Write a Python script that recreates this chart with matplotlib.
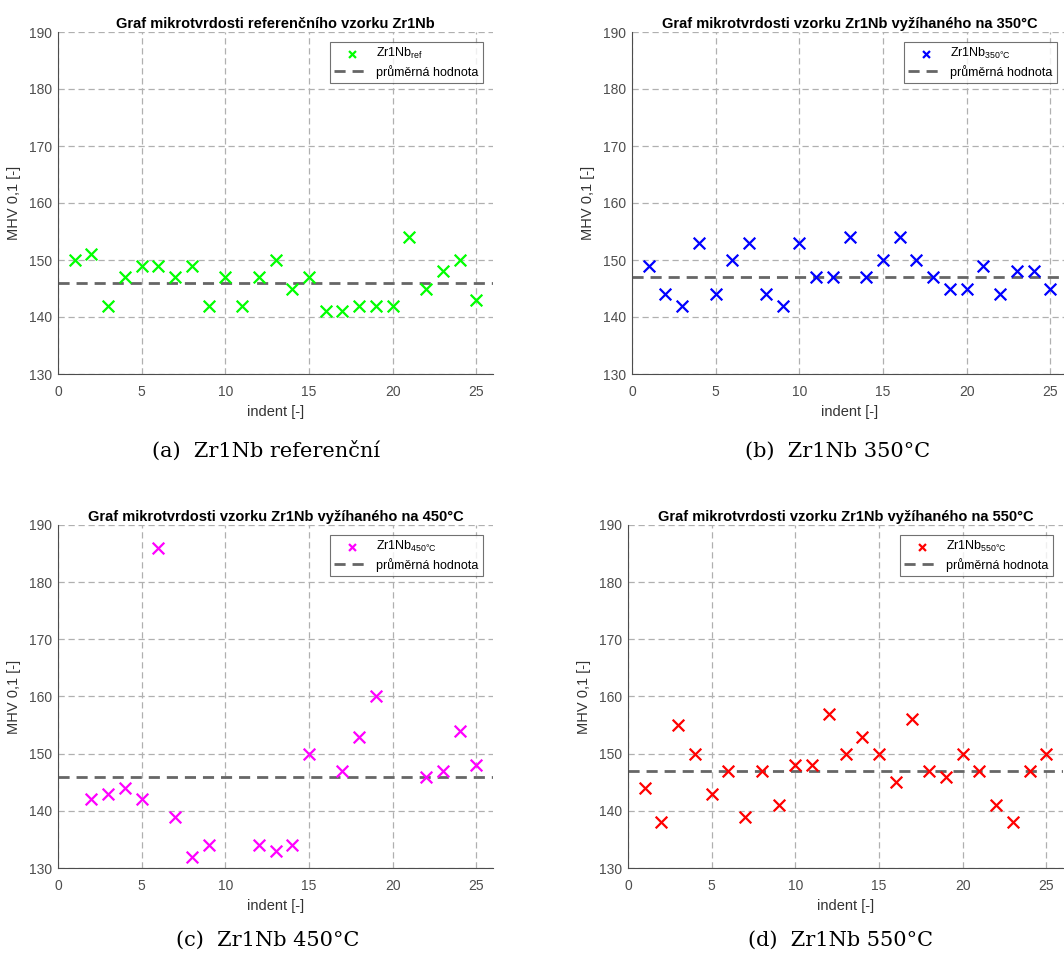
import numpy as np
import matplotlib.pyplot as plt

# indent numbers
indent = np.arange(1, 26)

# MHV 0,1 values (NaN = no point shown)
mhv_ref = [150, 151, 142, 147, 149, 149, 147, 149, 142, 147, 142, 147, 150,
           145, 147, 141, 141, 142, 142, 142, 154, 145, 148, 150, 143]
mhv_350 = [149, 144, 142, 153, 144, 150, 153, 144, 142, 153, 147, 147, 154,
           147, 150, 154, 150, 147, 145, 145, 149, 144, 148, 148, 145]
mhv_450 = [np.nan, 142, 143, 144, 142, 186, 139, 132, 134, np.nan, np.nan, 134, 133,
           134, 150, np.nan, 147, 153, 160, np.nan, np.nan, 146, 147, 154, 148]
mhv_550 = [144, 138, 155, 150, 143, 147, 139, 147, 141, 148, 148, 157, 150,
           153, 150, 145, 156, 147, 146, 150, 147, 141, 138, 147, 150]

means = [146, 147, 146, 147]
titles = ['Graf mikrotvrdosti referenčního vzorku Zr1Nb',
          'Graf mikrotvrdosti vzorku Zr1Nb vyžíhaného na 350°C',
          'Graf mikrotvrdosti vzorku Zr1Nb vyžíhaného na 450°C',
          'Graf mikrotvrdosti vzorku Zr1Nb vyžíhaného na 550°C']
labels = [r'Zr1Nb$_{\mathregular{ref}}$', r'Zr1Nb$_{\mathregular{350°C}}$',
          r'Zr1Nb$_{\mathregular{450°C}}$', r'Zr1Nb$_{\mathregular{550°C}}$']
captions = ['(a)  Zr1Nb referenční', '(b)  Zr1Nb 350°C',
            '(c)  Zr1Nb 450°C', '(d)  Zr1Nb 550°C']
colors = ['#00ff00', '#0000ff', '#ff00ff', '#ff0000']
series = [mhv_ref, mhv_350, mhv_450, mhv_550]

plt.rcParams['font.family'] = ['Liberation Sans', 'DejaVu Sans']

fig = plt.figure(figsize=(10.64, 9.58), dpi=100)

W, H = 1064, 958
# axes boxes in pixels: left, top, right, bottom
boxes = [(58, 32, 493, 374), (632, 32, 1067, 374),
         (58, 525, 493, 868), (628, 525, 1063, 868)]
cap_pos = [(266, 451), (838, 451), (268, 940), (840, 940)]

for i in range(4):
    l, t, r, b = boxes[i]
    ax = fig.add_axes([l / W, 1 - b / H, (r - l) / W, (b - t) / H])
    ax.scatter(indent, series[i], marker='x', s=70, linewidths=1.6,
               color=colors[i], label=labels[i], zorder=3)
    ax.axhline(means[i], color='#666666', ls=(0, (4, 2.5)), lw=2,
               label='průměrná hodnota', zorder=2)
    ax.set_xlim(0, 26)
    ax.set_ylim(130, 190)
    ax.set_xticks([0, 5, 10, 15, 20, 25])
    ax.set_yticks(range(130, 191, 10))
    ax.grid(True, ls=(0, (5, 3)), color='#b0b0b0', lw=0.9)
    ax.set_axisbelow(True)
    for s in ['top', 'right']:
        ax.spines[s].set_visible(False)
    for s in ['left', 'bottom']:
        ax.spines[s].set_color('#4d4d4d')
    ax.tick_params(colors='#4d4d4d', labelsize=10, direction='in', length=0)
    ax.tick_params(axis='x', pad=8)
    ax.tick_params(axis='y', pad=4)
    ax.set_title(titles[i], fontsize=10.5, fontweight='bold', pad=3)
    ax.set_xlabel('indent [-]', fontsize=10.5, color='#333333', labelpad=4)
    ax.set_ylabel('MHV 0,1 [-]', fontsize=10.5, color='#333333', labelpad=6)
    leg = ax.legend(loc='upper right', bbox_to_anchor=(0.977, 0.972),
                    fontsize=9, frameon=True, fancybox=False,
                    edgecolor='#4d4d4d', borderpad=0.35, labelspacing=0.3,
                    handlelength=2.75, handletextpad=0.6, borderaxespad=0)
    leg.get_frame().set_linewidth(0.8)
    for h in leg.legend_handles[:1]:
        h.set_sizes([25])
    cx, cy = cap_pos[i]
    fig.text(cx / W, 1 - cy / H, captions[i], ha='center', va='center',
             fontsize=15, family='DejaVu Serif')

fig.savefig('out.png', dpi=100)
